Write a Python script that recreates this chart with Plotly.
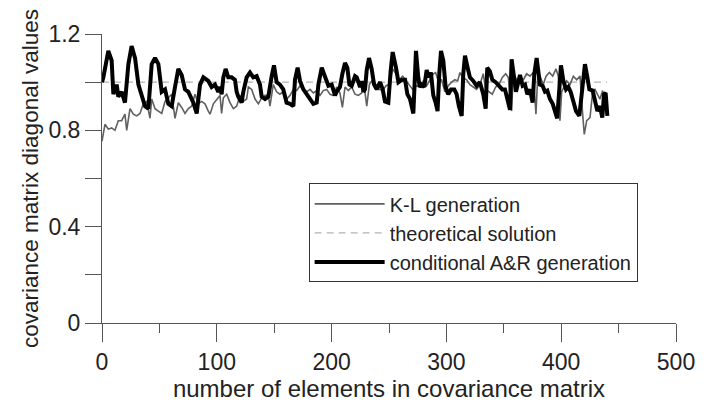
import plotly.graph_objects as go

# ---- data ----
kl_x = [0, 2.6, 5.5, 8.4, 11.3, 14.2, 17.1, 20.0, 21.5, 24.4, 27.3, 30.2, 33.1, 36.0, 38.9, 41.8, 43.3,
        46.2, 49.1, 52.0, 54.9, 57.8, 60.7, 63.6, 66.5, 69.4, 72.3, 75.2, 78.1, 81.0, 83.9, 86.8,
        89.7, 92.6, 94.1, 97.0, 99.9, 102.8, 104.2, 105.7, 108.6, 111.5, 114.4, 117.3, 120.2, 123.1,
        126.0, 127.5, 130.4, 133.3, 136.2, 139.1, 142.0, 144.9, 146.3, 149.2, 152.1, 155.0, 157.9,
        160.8, 163.8, 166.7, 169.6, 172.5, 175.4, 178.3,
        181.2, 184.1, 187.0, 189.9, 192.8, 195.7, 198.6, 201.5, 204.4, 207.3, 209.4, 211.7, 214.6,
        217.5, 220.4, 223.3, 226.2, 228.5, 230.6, 232.9, 235.8, 238.7, 241.6, 244.5, 247.4, 250.3,
        253.2, 256.1, 259.0, 261.9, 264.8, 267.7, 270.6,
        274.1, 277.0, 279.9, 282.8, 285.7, 288.6, 290.6, 292.9, 295.8, 298.7, 301.6, 304.5, 307.4,
        309.8, 311.8, 314.1, 317.6, 320.5, 323.4, 326.3, 329.2, 332.1, 334.2, 337.1, 340.0, 342.9,
        345.8, 348.7, 351.6, 353.9, 356.8, 358.3, 361.2, 364.1,
        367.0, 369.9, 372.8, 375.7, 378.0, 379.5, 381.5, 384.4, 386.8, 389.7, 392.6, 395.5, 397.5,
        398.9, 400.4, 402.4, 404.8, 407.7, 410.6, 413.5, 416.4, 418.7, 420.1, 422.2, 425.1, 427.4,
        429.4, 431.5, 433.8, 436.1, 438.1, 439.6]
kl_y = [0.755, 0.825, 0.805, 0.81, 0.80, 0.84, 0.84, 0.867, 0.80, 0.89, 0.867, 0.86, 0.87, 0.91, 0.92,
        0.85, 0.93, 0.89, 0.88, 0.87, 0.92, 0.935, 0.95, 0.85, 0.915, 0.895, 0.87, 0.89, 0.90, 0.95,
        0.91, 0.92,
        0.91, 0.88, 0.867, 0.91, 0.93, 0.945, 0.87, 0.935, 0.95, 0.915, 0.89, 0.90, 0.945, 0.92,
        0.93, 0.98, 0.97, 0.93, 0.91, 0.935, 0.945, 0.945, 0.90, 0.99, 0.96, 0.95, 0.96,
        0.93, 0.945, 0.97, 0.965, 0.985, 0.965, 0.96,
        0.97, 0.955, 0.965, 0.945, 0.965, 0.97, 0.95, 0.945, 0.98, 0.955, 0.895, 0.98, 0.965,
        0.98, 0.95, 0.945, 0.955, 0.98, 0.90, 0.99, 1.01, 0.99, 0.97, 0.965, 0.985, 0.99,
        1.055, 1.035, 1.01, 1.025, 1.005, 0.99, 0.97,
        0.985, 0.98, 1.005, 0.985, 1.01, 1.035, 1.04, 1.005, 1.01, 0.96, 0.985, 1.0, 1.01,
        1.005, 1.04, 1.02, 1.01, 0.99, 0.98, 0.97, 0.99, 1.035, 0.97, 0.96, 0.95, 0.98,
        0.99, 1.02, 1.035, 1.02, 0.88, 1.035, 1.01, 1.005,
        1.01, 1.035, 1.025, 1.04, 0.867, 1.02, 1.025, 0.99, 1.025, 1.04, 1.025, 1.055, 1.025,
        0.84, 0.96, 0.98, 1.005, 0.99, 1.025, 1.01, 1.025, 0.867, 0.783, 0.84, 0.853, 0.96,
        0.97, 0.95, 0.93, 0.965, 0.92, 0.91]

ar_x = [0, 1.2, 5.5, 8.4, 9.9, 12.8, 14.2, 17.1, 20.0, 23.0, 25.8, 28.8, 31.7, 34.6, 37.5, 40.4, 43.3,
        46.2, 49.1, 52.0, 54.9, 57.8, 60.7, 63.6, 66.5, 69.4, 72.3, 75.2, 79.6, 82.5, 85.4, 88.3,
        92.6, 95.5, 98.4, 101.3, 102.8, 104.2, 105.7, 107.7, 110.0, 112.9, 115.8, 117.3, 118.7,
        121.6, 123.1, 126.0, 128.9, 131.8, 134.7, 137.6, 139.1, 142.0, 144.9, 147.8, 149.8, 152.1,
        155.0, 157.9, 160.8, 163.8, 166.7, 168.1, 170.4, 172.5, 175.4, 178.3,
        181.2, 184.1, 187.0, 188.5, 191.4, 194.3, 197.2, 200.1, 203.0, 204.4, 207.3, 209.4, 211.7,
        213.7, 215.5, 217.5, 220.4, 221.9, 224.8, 226.2, 227.7, 229.1, 230.6, 232.6, 234.9, 237.0,
        239.3, 242.2, 244.5, 246.5, 249.4, 251.5, 253.2, 256.1, 258.2, 261.1, 264.0, 266.0, 268.3,
        271.2, 273.5, 275.5, 276.8, 278.4, 280.7, 282.8, 284.8, 286.5, 288.6, 290.6, 292.3, 293.8,
        295.3, 297.3, 299.3, 301.6, 304.0, 306.9, 308.9, 310.9, 313.3, 314.7, 316.2, 318.5, 320.5,
        323.4, 326.3, 329.2, 332.1, 334.2, 335.6, 337.9, 340.0, 342.9, 345.8, 348.7, 351.0, 353.3,
        355.4, 356.8, 358.3, 360.6, 362.6, 364.1, 366.4, 368.5, 370.5, 372.8, 375.1, 376.6, 378.6,
        380.1, 381.5, 383.8, 385.9, 387.9, 390.2, 392.6, 394.6, 396.5, 398.5, 399.8, 401.9, 404.2,
        406.2, 408.2, 410.6, 412.9, 415.8, 417.8, 419.3, 420.7, 422.8, 424.5, 427.4, 429.4, 431.5,
        433.8, 435.8, 437.3, 438.7, 440.2]
ar_y = [1.0, 1.02, 1.13, 1.09, 0.95, 0.99, 0.94, 0.96, 0.915, 1.075, 1.15, 1.10, 0.99, 0.94, 0.90, 0.89,
        1.075, 1.10, 1.075, 0.96, 0.97, 0.91, 0.90, 0.98, 1.055, 1.03, 0.97, 0.96, 0.915, 0.87, 0.99,
        1.02,
        1.005, 0.98, 0.99, 0.96, 0.98, 0.95, 1.02, 1.055, 1.02, 1.02, 1.01, 0.96, 0.94,
        0.915, 0.96, 1.02, 1.04, 1.02, 1.025, 0.99, 0.94, 0.93, 0.94, 1.025, 1.07, 1.0,
        0.99, 0.97, 0.915, 0.91, 0.90, 1.01, 1.06, 1.005, 0.97, 0.95,
        0.93, 0.91, 0.915, 0.99, 1.06, 1.02, 0.985, 0.99, 0.945, 0.96, 0.98, 1.035, 1.08,
        1.06, 0.99, 0.985, 1.025, 1.02, 0.98, 1.005, 0.96, 0.97, 1.05, 1.10, 1.055, 0.99,
        0.97, 1.0, 0.97, 0.92, 0.915, 1.05, 1.125, 1.06, 1.0, 1.01, 1.01, 0.95, 0.93,
        0.87, 1.13, 1.02, 0.98, 0.99, 0.98, 1.05, 1.02, 1.04, 0.945, 0.915, 0.88, 1.035,
        1.13, 1.09, 0.98, 0.95, 0.97, 0.97, 0.95, 0.90, 0.86, 1.035, 1.11, 1.06, 1.02,
        1.005, 0.985, 1.0, 0.95, 0.89, 1.06, 1.045, 1.01, 1.0, 0.985, 0.97, 0.97, 0.93,
        0.885, 1.095, 1.05, 0.96, 1.0, 1.03, 0.985, 0.99, 0.95, 0.97, 0.915, 1.035, 1.10,
        1.055, 0.99, 0.985, 0.96, 0.965, 0.93, 0.91, 0.88, 0.85, 0.98, 1.07, 1.005, 0.97,
        0.98, 0.96, 0.92, 0.88, 0.86, 0.95, 1.05, 1.075, 1.02, 0.97, 0.965, 0.92, 0.88,
        0.90, 0.853, 0.95, 0.955, 0.86]

th_x = [0, 440]
th_y = [1.0, 1.0]

x_ticks = [0, 100, 200, 300, 400, 500]
y_ticks = [0, 0.4, 0.8, 1.2]
y_tick_text = ["0", "0.4", "0.8", "1.2"]

FONT = "Liberation Sans, Arial, sans-serif"
AX = "#555555"

fig = go.Figure()
fig.add_trace(go.Scatter(x=th_x, y=th_y, mode="lines", name="theoretical solution",
                         line=dict(color="#b4b4b4", width=1.2, dash="7px,5px"), legendrank=2))
fig.add_trace(go.Scatter(x=kl_x, y=kl_y, mode="lines", name="K-L generation",
                         line=dict(color="#606060", width=1.6), legendrank=1))
fig.add_trace(go.Scatter(x=ar_x, y=ar_y, mode="lines", name="conditional A&R generation",
                         line=dict(color="#000000", width=4), legendrank=3))

# the page body adds an 8px margin, so the figure is 8px smaller and margins shifted
fig.update_layout(
    width=719, height=395,
    margin=dict(l=94, r=51, t=26, b=80),
    paper_bgcolor="white", plot_bgcolor="white",
    font=dict(family=FONT, size=23, color="#222222"),
    showlegend=True,
    legend=dict(x=0.36, y=0.483, xanchor="left", yanchor="top",
                bgcolor="white", bordercolor="#333333", borderwidth=1,
                font=dict(size=20, family=FONT, color="#222222"),
                itemwidth=70, tracegroupgap=0, traceorder="normal"),
    xaxis=dict(range=[0, 500], tickvals=x_ticks, ticks="outside", ticklen=18, tickwidth=1,
               tickcolor=AX, showline=True, linecolor=AX, linewidth=1, showgrid=False,
               zeroline=False, tickfont=dict(size=23),
               minor=dict(dtick=50, tick0=0, ticks="outside", ticklen=9, tickcolor=AX, showgrid=False),
               title=dict(text="number of elements in covariance matrix", font=dict(size=24), standoff=2),
               automargin=False),
    yaxis=dict(range=[0, 1.2], tickvals=y_ticks, ticktext=y_tick_text, ticks="outside", ticklen=16,
               tickwidth=1, tickcolor=AX, showline=True, linecolor=AX, linewidth=1, showgrid=False,
               zeroline=False, tickfont=dict(size=23),
               minor=dict(dtick=0.2, tick0=0, ticks="outside", ticklen=16, tickcolor=AX, showgrid=False),
               title=dict(text="covariance matrix diagonal values", font=dict(size=22.5), standoff=3),
               automargin=False),
)

fig.write_html("out.html")
